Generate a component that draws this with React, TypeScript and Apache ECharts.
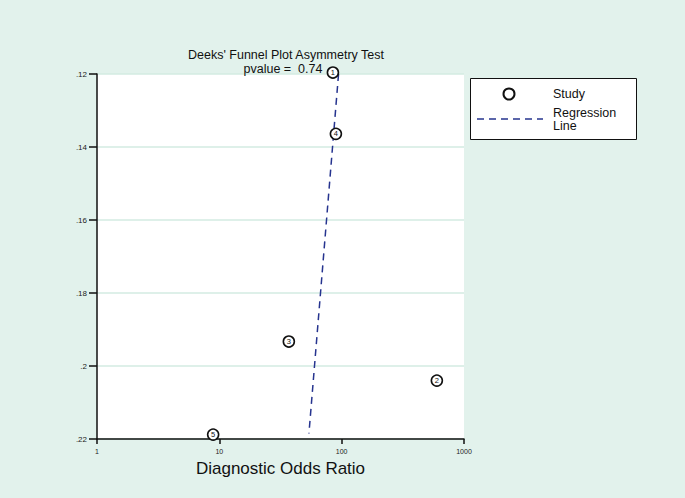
import React, { useEffect, useRef } from "react";
import * as echarts from "echarts";

const studyLabels = ["1", "2", "3", "4", "5"];
const studyDOR = [84.8, 600, 37, 89.7, 8.9];
const studyInvSqrtESS = [0.1196, 0.204, 0.1933, 0.1364, 0.2188];
const regressionDOR = [94.3, 54];
const regressionY = [0.12, 0.2185];
const xTicks = [1, 10, 100, 1000];
const yTicks = [0.12, 0.14, 0.16, 0.18, 0.2, 0.22];

const FONT = "'Liberation Sans', Arial, Helvetica, sans-serif";
const BG = "#e2f2ec";
const GRIDC = "#d3ebe2";
const LINEC = "#26348f";

export default function App() {
  const ref = useRef<HTMLDivElement>(null);
  useEffect(() => {
    document.body.style.margin = "0";
    const chart = echarts.init(ref.current!, null, { renderer: "svg" });
    const fmtY = (v: number) => Number(v.toFixed(2)).toString().replace(/^0\./, ".");
    chart.setOption({
      animation: false,
      backgroundColor: BG,
      textStyle: { fontFamily: FONT },
      title: [
        {
          text: "Deeks' Funnel Plot Asymmetry Test",
          left: 281,
          top: 43,
          textAlign: "center",
          textStyle: { fontSize: 12.5, fontWeight: "normal", color: "#111", fontFamily: FONT, lineHeight: 13 },
        },
        {
          text: "pvalue =  0.74",
          left: 278,
          top: 57,
          textAlign: "center",
          textStyle: { fontSize: 12.5, fontWeight: "normal", color: "#111", fontFamily: FONT, lineHeight: 13 },
        },
      ],
      grid: {
        left: 97,
        top: 74,
        width: 367,
        height: 365,
        show: true,
        backgroundColor: "#ffffff",
        borderWidth: 0,
      },
      xAxis: {
        type: "log",
        logBase: 10,
        min: xTicks[0],
        max: xTicks[xTicks.length - 1],
        name: "Diagnostic Odds Ratio",
        nameLocation: "middle",
        nameGap: 20,
        nameTextStyle: { fontSize: 17, color: "#111", fontFamily: FONT },
        axisLine: { show: true, lineStyle: { color: "#111", width: 1.5 } },
        axisTick: { show: true, length: 5, lineStyle: { color: "#111", width: 1.5 } },
        axisLabel: { fontSize: 7, color: "#222", margin: 9, formatter: (v: number) => String(Math.round(v)) },
        splitLine: { show: false },
        minorTick: { show: false },
      },
      yAxis: {
        type: "value",
        inverse: true,
        min: yTicks[0],
        max: yTicks[yTicks.length - 1],
        interval: 0.02,
        axisLine: { show: true, onZero: false, lineStyle: { color: "#111", width: 1.5 } },
        axisTick: { show: true, length: 8, lineStyle: { color: "#111", width: 1.5 } },
        axisLabel: { fontSize: 8, color: "#222", margin: 10, formatter: fmtY },
        splitLine: { show: true, lineStyle: { color: GRIDC, width: 1.5 } },
      },
      series: [
        {
          type: "line",
          data: regressionDOR.map((x, i) => [x, regressionY[i]]),
          symbol: "none",
          lineStyle: { color: LINEC, width: 1.5, type: [7, 5] },
          clip: false,
          z: 2,
        },
        {
          type: "scatter",
          data: studyDOR.map((x, i) => [x, studyInvSqrtESS[i], studyLabels[i]]),
          symbol: "circle",
          symbolSize: 11,
          clip: false,
          itemStyle: { color: "#ffffff", borderColor: "#111", borderWidth: 1.6, opacity: 1 },
          label: {
            show: true,
            position: "inside",
            formatter: (p: any) => p.data[2],
            fontSize: 7.5,
            color: "#111",
            fontFamily: FONT,
          },
          z: 3,
        },
      ],
      graphic: [
        {
          type: "rect",
          shape: { x: 470.5, y: 78.5, width: 166, height: 61 },
          style: { fill: "#ffffff", stroke: "#111", lineWidth: 1 },
        },
        {
          type: "circle",
          shape: { cx: 509, cy: 94, r: 5.5 },
          style: { fill: "#ffffff", stroke: "#111", lineWidth: 2 },
        },
        {
          type: "text",
          x: 553,
          y: 94,
          style: { text: "Study", fontSize: 12.5, fill: "#111", verticalAlign: "middle", fontFamily: FONT },
        },
        {
          type: "line",
          shape: { x1: 477, y1: 119, x2: 543, y2: 119 },
          style: { stroke: LINEC, lineWidth: 1.5, lineDash: [7, 5] },
        },
        {
          type: "text",
          x: 553,
          y: 113,
          style: { text: "Regression", fontSize: 12.5, fill: "#111", verticalAlign: "middle", fontFamily: FONT },
        },
        {
          type: "text",
          x: 553,
          y: 126,
          style: { text: "Line", fontSize: 12.5, fill: "#111", verticalAlign: "middle", fontFamily: FONT },
        },
      ],
    });
    return () => chart.dispose();
  }, []);
  return <div ref={ref} style={{ width: 685, height: 498 }} />;
}
